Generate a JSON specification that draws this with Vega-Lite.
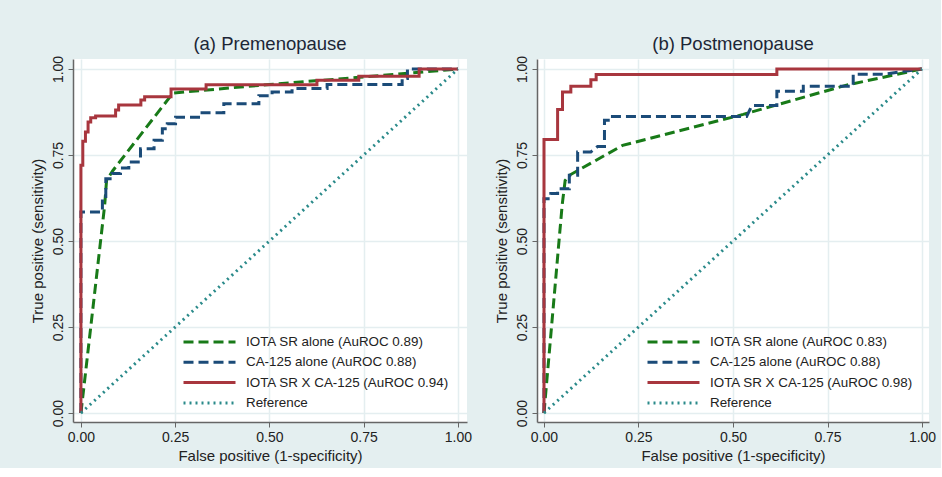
{
  "$schema": "https://vega.github.io/schema/vega-lite/v6.json",
  "background": "#e4eff0",
  "padding": {"left": 30, "top": 34, "right": 5, "bottom": 5},
  "datasets": {
    "roc": [
      {"p":"a","s":"iota","o":1,"x":0,"y":0},
      {"p":"a","s":"iota","o":2,"x":0.063,"y":0.604},
      {"p":"a","s":"iota","o":3,"x":0.068,"y":0.676},
      {"p":"a","s":"iota","o":4,"x":0.085,"y":0.705},
      {"p":"a","s":"iota","o":5,"x":0.244,"y":0.93},
      {"p":"a","s":"iota","o":6,"x":0.5,"y":0.955},
      {"p":"a","s":"iota","o":7,"x":0.73,"y":0.975},
      {"p":"a","s":"iota","o":8,"x":1,"y":1},

      {"p":"a","s":"ca125","o":1,"x":0,"y":0},
      {"p":"a","s":"ca125","o":2,"x":0,"y":0.584},
      {"p":"a","s":"ca125","o":3,"x":0.057,"y":0.584},
      {"p":"a","s":"ca125","o":4,"x":0.057,"y":0.623},
      {"p":"a","s":"ca125","o":5,"x":0.066,"y":0.623},
      {"p":"a","s":"ca125","o":6,"x":0.066,"y":0.681},
      {"p":"a","s":"ca125","o":7,"x":0.083,"y":0.681},
      {"p":"a","s":"ca125","o":8,"x":0.083,"y":0.696},
      {"p":"a","s":"ca125","o":9,"x":0.105,"y":0.696},
      {"p":"a","s":"ca125","o":10,"x":0.105,"y":0.712},
      {"p":"a","s":"ca125","o":11,"x":0.127,"y":0.712},
      {"p":"a","s":"ca125","o":12,"x":0.127,"y":0.73},
      {"p":"a","s":"ca125","o":13,"x":0.158,"y":0.73},
      {"p":"a","s":"ca125","o":14,"x":0.158,"y":0.768},
      {"p":"a","s":"ca125","o":15,"x":0.194,"y":0.768},
      {"p":"a","s":"ca125","o":16,"x":0.194,"y":0.793},
      {"p":"a","s":"ca125","o":17,"x":0.216,"y":0.793},
      {"p":"a","s":"ca125","o":18,"x":0.216,"y":0.826},
      {"p":"a","s":"ca125","o":19,"x":0.229,"y":0.826},
      {"p":"a","s":"ca125","o":20,"x":0.229,"y":0.841},
      {"p":"a","s":"ca125","o":21,"x":0.251,"y":0.841},
      {"p":"a","s":"ca125","o":22,"x":0.251,"y":0.86},
      {"p":"a","s":"ca125","o":23,"x":0.317,"y":0.86},
      {"p":"a","s":"ca125","o":24,"x":0.317,"y":0.873},
      {"p":"a","s":"ca125","o":25,"x":0.379,"y":0.873},
      {"p":"a","s":"ca125","o":26,"x":0.379,"y":0.899},
      {"p":"a","s":"ca125","o":27,"x":0.472,"y":0.899},
      {"p":"a","s":"ca125","o":28,"x":0.472,"y":0.922},
      {"p":"a","s":"ca125","o":29,"x":0.507,"y":0.922},
      {"p":"a","s":"ca125","o":30,"x":0.507,"y":0.933},
      {"p":"a","s":"ca125","o":31,"x":0.56,"y":0.933},
      {"p":"a","s":"ca125","o":32,"x":0.56,"y":0.943},
      {"p":"a","s":"ca125","o":33,"x":0.653,"y":0.943},
      {"p":"a","s":"ca125","o":34,"x":0.653,"y":0.955},
      {"p":"a","s":"ca125","o":35,"x":0.852,"y":0.955},
      {"p":"a","s":"ca125","o":36,"x":0.852,"y":0.972},
      {"p":"a","s":"ca125","o":37,"x":0.866,"y":0.972},
      {"p":"a","s":"ca125","o":38,"x":0.866,"y":1},
      {"p":"a","s":"ca125","o":39,"x":1,"y":1},

      {"p":"a","s":"combo","o":1,"x":0,"y":0},
      {"p":"a","s":"combo","o":2,"x":0,"y":0.72},
      {"p":"a","s":"combo","o":3,"x":0.005,"y":0.72},
      {"p":"a","s":"combo","o":4,"x":0.005,"y":0.79},
      {"p":"a","s":"combo","o":5,"x":0.012,"y":0.79},
      {"p":"a","s":"combo","o":6,"x":0.012,"y":0.817},
      {"p":"a","s":"combo","o":7,"x":0.019,"y":0.817},
      {"p":"a","s":"combo","o":8,"x":0.019,"y":0.846},
      {"p":"a","s":"combo","o":9,"x":0.026,"y":0.846},
      {"p":"a","s":"combo","o":10,"x":0.026,"y":0.858},
      {"p":"a","s":"combo","o":11,"x":0.039,"y":0.858},
      {"p":"a","s":"combo","o":12,"x":0.039,"y":0.863},
      {"p":"a","s":"combo","o":13,"x":0.092,"y":0.863},
      {"p":"a","s":"combo","o":14,"x":0.092,"y":0.881},
      {"p":"a","s":"combo","o":15,"x":0.1,"y":0.881},
      {"p":"a","s":"combo","o":16,"x":0.1,"y":0.895},
      {"p":"a","s":"combo","o":17,"x":0.159,"y":0.895},
      {"p":"a","s":"combo","o":18,"x":0.159,"y":0.91},
      {"p":"a","s":"combo","o":19,"x":0.169,"y":0.91},
      {"p":"a","s":"combo","o":20,"x":0.169,"y":0.919},
      {"p":"a","s":"combo","o":21,"x":0.239,"y":0.919},
      {"p":"a","s":"combo","o":22,"x":0.239,"y":0.942},
      {"p":"a","s":"combo","o":23,"x":0.332,"y":0.942},
      {"p":"a","s":"combo","o":24,"x":0.332,"y":0.954},
      {"p":"a","s":"combo","o":25,"x":0.626,"y":0.954},
      {"p":"a","s":"combo","o":26,"x":0.626,"y":0.967},
      {"p":"a","s":"combo","o":27,"x":0.737,"y":0.967},
      {"p":"a","s":"combo","o":28,"x":0.737,"y":0.979},
      {"p":"a","s":"combo","o":29,"x":0.897,"y":0.979},
      {"p":"a","s":"combo","o":30,"x":0.897,"y":1},
      {"p":"a","s":"combo","o":31,"x":1,"y":1},

      {"p":"a","s":"ref","o":1,"x":0,"y":0},
      {"p":"a","s":"ref","o":2,"x":1,"y":1},

      {"p":"b","s":"iota","o":1,"x":0,"y":0},
      {"p":"b","s":"iota","o":2,"x":0.048,"y":0.604},
      {"p":"b","s":"iota","o":3,"x":0.056,"y":0.676},
      {"p":"b","s":"iota","o":4,"x":0.067,"y":0.691},
      {"p":"b","s":"iota","o":5,"x":0.208,"y":0.778},
      {"p":"b","s":"iota","o":6,"x":0.527,"y":0.868},
      {"p":"b","s":"iota","o":7,"x":0.8,"y":0.953},
      {"p":"b","s":"iota","o":8,"x":1,"y":1},

      {"p":"b","s":"ca125","o":1,"x":0,"y":0},
      {"p":"b","s":"ca125","o":2,"x":0,"y":0.623},
      {"p":"b","s":"ca125","o":3,"x":0.018,"y":0.623},
      {"p":"b","s":"ca125","o":4,"x":0.018,"y":0.638},
      {"p":"b","s":"ca125","o":5,"x":0.036,"y":0.638},
      {"p":"b","s":"ca125","o":6,"x":0.036,"y":0.652},
      {"p":"b","s":"ca125","o":7,"x":0.067,"y":0.652},
      {"p":"b","s":"ca125","o":8,"x":0.067,"y":0.691},
      {"p":"b","s":"ca125","o":9,"x":0.089,"y":0.691},
      {"p":"b","s":"ca125","o":10,"x":0.089,"y":0.759},
      {"p":"b","s":"ca125","o":11,"x":0.124,"y":0.759},
      {"p":"b","s":"ca125","o":12,"x":0.142,"y":0.775},
      {"p":"b","s":"ca125","o":13,"x":0.16,"y":0.775},
      {"p":"b","s":"ca125","o":14,"x":0.16,"y":0.851},
      {"p":"b","s":"ca125","o":15,"x":0.177,"y":0.851},
      {"p":"b","s":"ca125","o":16,"x":0.177,"y":0.862},
      {"p":"b","s":"ca125","o":17,"x":0.536,"y":0.862},
      {"p":"b","s":"ca125","o":18,"x":0.55,"y":0.894},
      {"p":"b","s":"ca125","o":19,"x":0.616,"y":0.894},
      {"p":"b","s":"ca125","o":20,"x":0.616,"y":0.935},
      {"p":"b","s":"ca125","o":21,"x":0.686,"y":0.935},
      {"p":"b","s":"ca125","o":22,"x":0.686,"y":0.95},
      {"p":"b","s":"ca125","o":23,"x":0.818,"y":0.95},
      {"p":"b","s":"ca125","o":24,"x":0.818,"y":0.985},
      {"p":"b","s":"ca125","o":25,"x":0.9,"y":0.985},
      {"p":"b","s":"ca125","o":26,"x":1,"y":1},

      {"p":"b","s":"combo","o":1,"x":0,"y":0},
      {"p":"b","s":"combo","o":2,"x":0,"y":0.795},
      {"p":"b","s":"combo","o":3,"x":0.036,"y":0.795},
      {"p":"b","s":"combo","o":4,"x":0.036,"y":0.882},
      {"p":"b","s":"combo","o":5,"x":0.049,"y":0.882},
      {"p":"b","s":"combo","o":6,"x":0.049,"y":0.933},
      {"p":"b","s":"combo","o":7,"x":0.071,"y":0.933},
      {"p":"b","s":"combo","o":8,"x":0.071,"y":0.95},
      {"p":"b","s":"combo","o":9,"x":0.124,"y":0.95},
      {"p":"b","s":"combo","o":10,"x":0.124,"y":0.969},
      {"p":"b","s":"combo","o":11,"x":0.138,"y":0.969},
      {"p":"b","s":"combo","o":12,"x":0.138,"y":0.984},
      {"p":"b","s":"combo","o":13,"x":0.616,"y":0.984},
      {"p":"b","s":"combo","o":14,"x":0.616,"y":1},
      {"p":"b","s":"combo","o":15,"x":1,"y":1},

      {"p":"b","s":"ref","o":1,"x":0,"y":0},
      {"p":"b","s":"ref","o":2,"x":1,"y":1}
    ]
  },
  "data": {"name": "roc"},
  "spacing": 22,
  "hconcat": [
    {
      "width": 394,
      "height": 363,
      "title": "(a) Premenopause",
      "transform": [{"filter": "datum.p == 'a'"}],
      "mark": {"type": "line", "strokeCap": "butt", "strokeJoin": "miter"},
      "encoding": {
        "x": {"field": "x", "type": "quantitative", "scale": {"domain": [-0.021, 1.024], "nice": false, "zero": false}, "axis": {"values": [0, 0.25, 0.5, 0.75, 1], "format": ".2f", "title": "False positive (1-specificity)"}},
        "y": {"field": "y", "type": "quantitative", "scale": {"domain": [-0.026, 1.029], "nice": false, "zero": false}, "axis": {"values": [0, 0.25, 0.5, 0.75, 1], "format": ".2f", "title": "True positive (sensitivity)"}},
        "stroke": {"field": "s", "type": "nominal", "scale": {"domain": ["iota", "ca125", "combo", "ref"], "range": ["#187a18", "#1b4b78", "#a8363e", "#2a8a8a"]},
          "legend": {"labelExpr": "{'iota':'IOTA SR alone (AuROC 0.89)','ca125':'CA-125 alone (AuROC 0.88)','combo':'IOTA SR X CA-125 (AuROC 0.94)','ref':'Reference'}[datum.value]"}},
        "strokeDash": {"field": "s", "type": "nominal", "scale": {"domain": ["iota", "ca125", "combo", "ref"], "range": [[10, 5], [10, 5], [1, 0], [2, 4]]},
          "legend": {"labelExpr": "{'iota':'IOTA SR alone (AuROC 0.89)','ca125':'CA-125 alone (AuROC 0.88)','combo':'IOTA SR X CA-125 (AuROC 0.94)','ref':'Reference'}[datum.value]"}},
        "strokeWidth": {"field": "s", "type": "nominal", "scale": {"domain": ["iota", "ca125", "combo", "ref"], "range": [3, 3, 3, 1.6]},
          "legend": {"labelExpr": "{'iota':'IOTA SR alone (AuROC 0.89)','ca125':'CA-125 alone (AuROC 0.88)','combo':'IOTA SR X CA-125 (AuROC 0.94)','ref':'Reference'}[datum.value]"}},
        "order": {"field": "o", "type": "quantitative"}
      }
    },
    {
      "width": 392,
      "height": 363,
      "title": "(b) Postmenopause",
      "transform": [{"filter": "datum.p == 'b'"}],
      "mark": {"type": "line", "strokeCap": "butt", "strokeJoin": "miter"},
      "encoding": {
        "x": {"field": "x", "type": "quantitative", "scale": {"domain": [-0.0185, 1.0185], "nice": false, "zero": false}, "axis": {"values": [0, 0.25, 0.5, 0.75, 1], "format": ".2f", "title": "False positive (1-specificity)"}},
        "y": {"field": "y", "type": "quantitative", "scale": {"domain": [-0.026, 1.029], "nice": false, "zero": false}, "axis": {"values": [0, 0.25, 0.5, 0.75, 1], "format": ".2f", "title": "True positive (sensitivity)"}},
        "stroke": {"field": "s", "type": "nominal", "scale": {"domain": ["iota", "ca125", "combo", "ref"], "range": ["#187a18", "#1b4b78", "#a8363e", "#2a8a8a"]},
          "legend": {"labelExpr": "{'iota':'IOTA SR alone (AuROC 0.83)','ca125':'CA-125 alone (AuROC 0.88)','combo':'IOTA SR X CA-125 (AuROC 0.98)','ref':'Reference'}[datum.value]"}},
        "strokeDash": {"field": "s", "type": "nominal", "scale": {"domain": ["iota", "ca125", "combo", "ref"], "range": [[10, 5], [10, 5], [1, 0], [2, 4]]},
          "legend": {"labelExpr": "{'iota':'IOTA SR alone (AuROC 0.83)','ca125':'CA-125 alone (AuROC 0.88)','combo':'IOTA SR X CA-125 (AuROC 0.98)','ref':'Reference'}[datum.value]"}},
        "strokeWidth": {"field": "s", "type": "nominal", "scale": {"domain": ["iota", "ca125", "combo", "ref"], "range": [3, 3, 3, 1.6]},
          "legend": {"labelExpr": "{'iota':'IOTA SR alone (AuROC 0.83)','ca125':'CA-125 alone (AuROC 0.88)','combo':'IOTA SR X CA-125 (AuROC 0.98)','ref':'Reference'}[datum.value]"}},
        "order": {"field": "o", "type": "quantitative"}
      }
    }
  ],
  "resolve": {
    "scale": {"x": "independent", "y": "independent", "stroke": "independent", "strokeDash": "independent", "strokeWidth": "independent"},
    "legend": {"stroke": "independent", "strokeDash": "independent", "strokeWidth": "independent"}
  },
  "config": {
    "font": "Liberation Sans",
    "view": {"fill": "white", "stroke": null},
    "axis": {
      "grid": true, "gridColor": "#e4eef0", "gridWidth": 1.5,
      "domainColor": "#666666", "domainWidth": 1.5,
      "tickColor": "#666666", "tickSize": 5, "tickWidth": 1,
      "labelFont": "Liberation Sans", "labelFontSize": 14, "labelColor": "#222222", "labelFlush": false,
      "titleFont": "Liberation Sans", "titleFontSize": 15, "titleFontWeight": "normal", "titleColor": "#222222"
    },
    "axisY": {"labelAngle": -90, "labelAlign": "center", "labelBaseline": "bottom", "labelPadding": 3, "titlePadding": 6},
    "axisX": {"labelPadding": 3, "titlePadding": 4},
    "title": {"font": "Liberation Sans", "fontSize": 18.5, "fontWeight": "normal", "color": "#1c2636", "offset": 2},
    "legend": {
      "orient": "none", "legendX": 109, "legendY": 275, "title": null,
      "symbolType": "stroke", "symbolSize": 2704, "clipHeight": 16, "rowPadding": 4.3,
      "labelFont": "Liberation Sans", "labelFontSize": 13.4, "labelOffset": 9, "labelColor": "#222222",
      "padding": 0, "labelLimit": 400
    }
  }
}
